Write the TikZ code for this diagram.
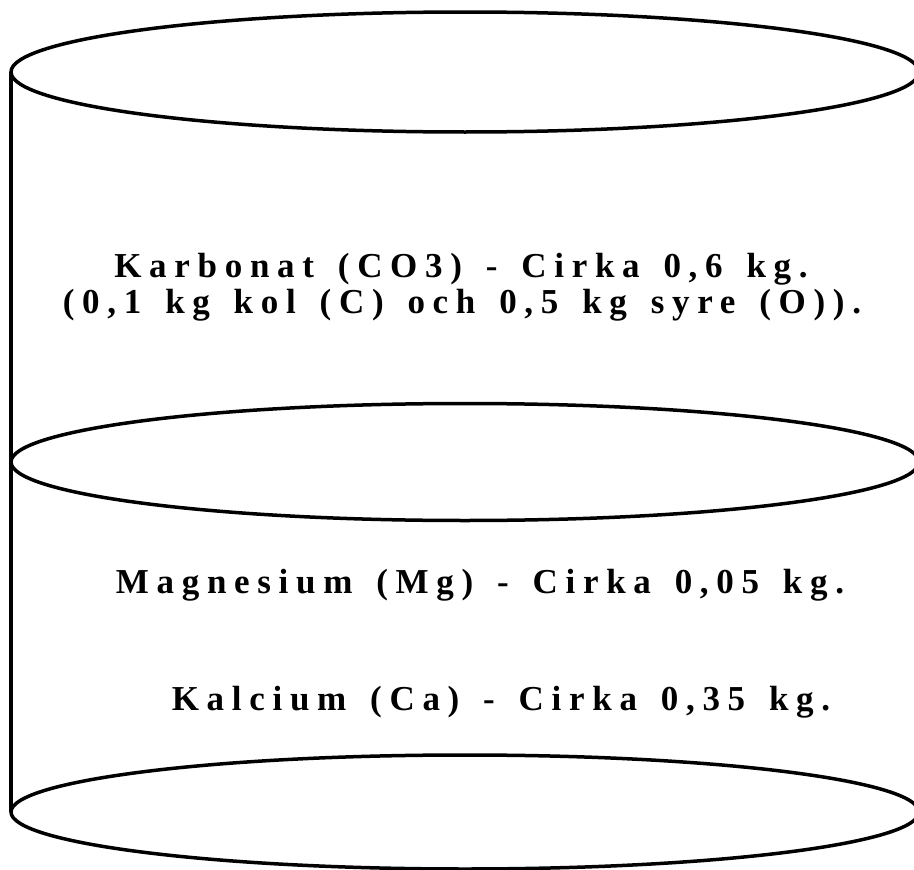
\documentclass[tikz,border=0pt]{standalone}
\usepackage{fontspec}
\setmainfont{Liberation Serif}
\newfontfamily\spacedfont[LetterSpace=22,WordSpace=1.45]{Liberation Serif}
\tikzset{
  outline/.style={line width=3.5pt, draw=black},
  label/.style={font=\spacedfont\bfseries\fontsize{35}{40}\selectfont, align=center, inner sep=0pt, anchor=base}
}
\begin{document}
\begin{tikzpicture}[x=1pt,y=-1pt]
\useasboundingbox (0,0) rectangle (914,870);
\clip (0,0) rectangle (914,870);
\draw[outline] (465,72) ellipse [x radius=454, y radius=60];
\draw[outline] (465,462) ellipse [x radius=454, y radius=58.5];
\draw[outline] (465,812) ellipse [x radius=454, y radius=57];
\draw[outline] (11,72) -- (11,812);
\node[label] (l1) at (461,277) {Karbonat (CO3) - Cirka 0,6 kg.};
\node[label] (l2) at (462,313) {(0,1 kg kol (C) och 0,5 kg syre (O)).};
\node[label] (l3) at (480,593) {Magnesium (Mg) - Cirka 0,05 kg.};
\node[label] (l4) at (501,710) {Kalcium (Ca) - Cirka 0,35 kg.};
\end{tikzpicture}
\end{document}
